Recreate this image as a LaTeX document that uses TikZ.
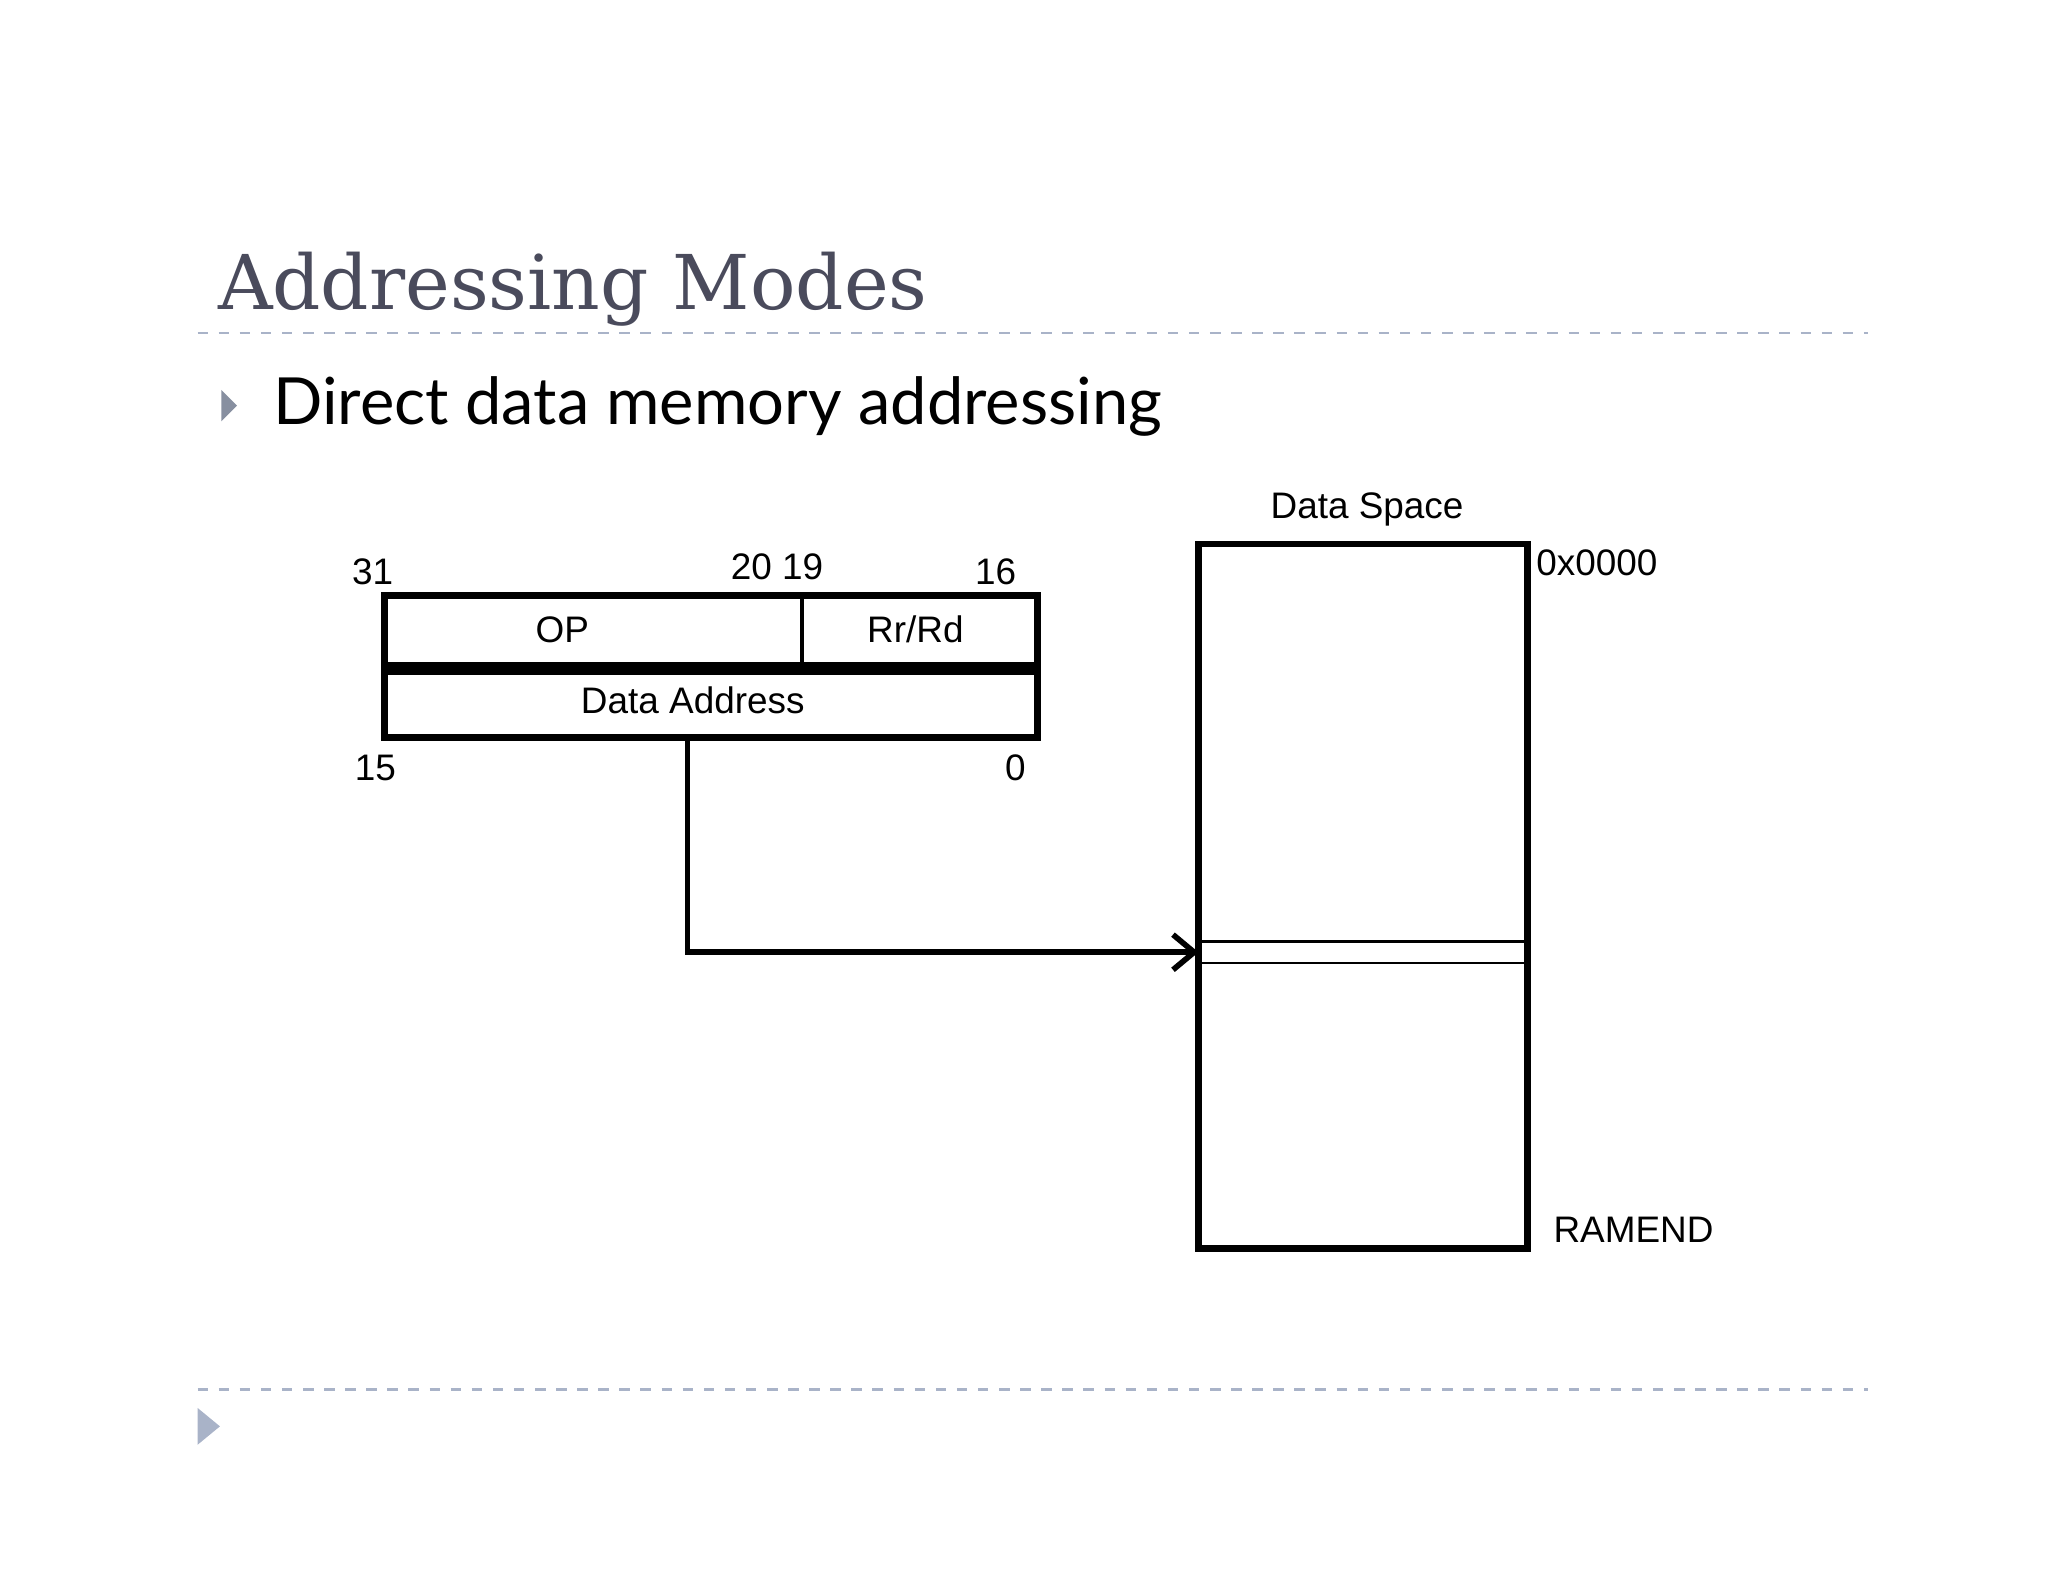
\documentclass[tikz,border=0pt]{standalone}
\usepackage{fontspec}
\setmainfont{Liberation Sans}
\newfontfamily\titlefont{DejaVu Serif}
\newfontfamily\bulletfont{Lato}
\usetikzlibrary{arrows.meta}
\definecolor{titlegray}{HTML}{4A4B5C}
\definecolor{rulegray}{HTML}{A9B3C8}
\begin{document}
\begin{tikzpicture}[x=0.01317cm, y=-0.01317cm,
                    field/.style={draw=black, line width=1.9pt},
                    lbl/.style={font=\fontsize{10.5}{12}\selectfont, inner sep=0pt},
                    dashrule/.style={draw=rulegray, dashed, line width=0.6pt}]

    % Page area
    \useasboundingbox (0,0) rectangle (1555,1201);

    % Slide header
    \node[anchor=base west, inner sep=0pt, text=titlegray, font=\titlefont\fontsize{21.5}{26}\selectfont] (title) at (165,235) {Addressing Modes};
    \draw[dashrule] (150,253) -- (1418,253);
    \fill[rulegray!80!black] (168,296) -- (180,308) -- (168,320) -- cycle;
    \node[anchor=base west, inner sep=0pt, font=\bulletfont\fontsize{18.5}{22}\selectfont] (bullet) at (207,322) {Direct data memory addressing};

    % Instruction word
    \draw[field] (292,452) rectangle (788,505);
    \draw[line width=1pt] (609,452) -- (609,505);
    \draw[field] (292,510) rectangle (788,560);
    \node[lbl] (oplbl) at (427,478) {OP};
    \node[lbl] (rrrd) at (695,478) {Rr/Rd};
    \node[lbl] (addr) at (526,532) {Data Address};
    \node[lbl] (b31) at (283,434) {31};
    \node[lbl] (b2019) at (590,430) {20 19};
    \node[lbl] (b16) at (756,434) {16};
    \node[lbl] (b15) at (285,583) {15};
    \node[lbl] (b0) at (771,583) {0};
    \coordinate (src) at (522,560);

    % Data space
    \draw[field] (910,413) rectangle (1160,948);
    \draw[line width=0.7pt] (910,715) -- (1160,715);
    \draw[line width=0.7pt] (910,731) -- (1160,731);
    \coordinate (cell) at (910,723);
    \node[lbl] (dspace) at (1038,387) {Data Space};
    \node[lbl, anchor=west] (top) at (1166,427) {0x0000};
    \node[lbl, anchor=west] (end) at (1179,934) {RAMEND};

    % Address pointer
    \draw[line width=1.6pt, -{Straight Barb[length=6pt,width=10pt]}] (src) |- (cell);

    % Footer
    \draw[dashrule] (150,1055) -- (1418,1055);
    \fill[rulegray] (150,1069) -- (167,1083) -- (150,1097) -- cycle;
\end{tikzpicture}
\end{document}
